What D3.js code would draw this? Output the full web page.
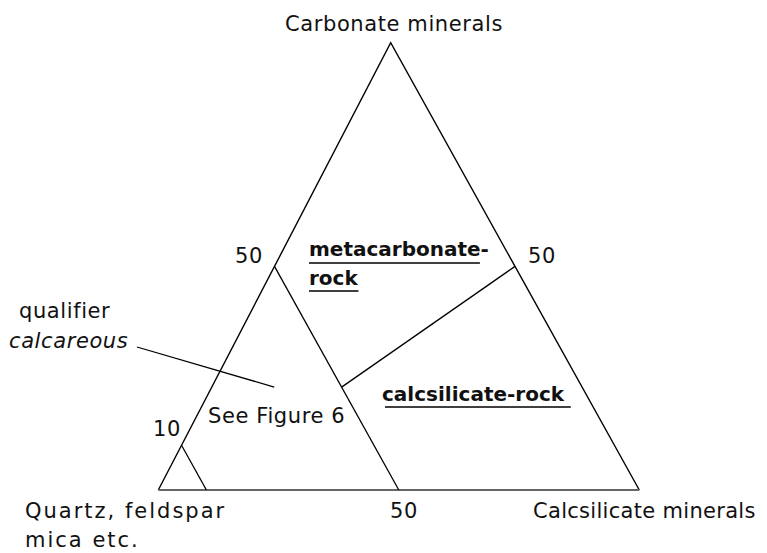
<!DOCTYPE html>
<html lang="en">
<head>
    <title>Metacarbonate classification</title>
    <meta charset="utf-8">
    <style>
        body { margin: 0; background: white; }
        svg { display: block; }
        .label { font-family: "DejaVu Sans", sans-serif; font-size: 21px; fill: #111; letter-spacing: 0.6px; }
        .wide { letter-spacing: 2px; }
        .field { font-family: "DejaVu Sans", sans-serif; font-size: 20px; font-weight: bold; fill: #111; }
        .edge { stroke: #000; stroke-width: 1.4; fill: none; }
        .base { stroke: #666; stroke-width: 2.2; }
        .inner { stroke: #000; stroke-width: 1.3; }
        .uline { stroke: #000; stroke-width: 1.5; }
    </style>
    <script src="https://cdn.jsdelivr.net/npm/d3@7/dist/d3.min.js"></script>
</head>
<body>
<svg id="chart" width="767" height="553"></svg>
<script>
    // ternary points are [carbonate, quartz/feldspar/mica, calcsilicate] in percent
    const cornerNames = ["Carbonate minerals", ["Quartz, feldspar", "mica etc."], "Calcsilicate minerals"];
    const fieldLines = [
        [[50, 50, 0], [0, 50, 50]],   // 50 % quartz etc.
        [[50, 0, 50], [23, 50, 27]],  // carbonate = calcsilicate split
        [[10, 90, 0], [0, 90, 10]]    // 10 % corner
    ];
    const tickValues = ["50", "50", "50", "10"];
    const fieldNames = [["metacarbonate-", "rock"], ["calcsilicate-rock"]];
    const otherText = ["See Figure 6"];
    const qualifier = ["qualifier", "calcareous"];
    const leaderTarget = [23, 64, 13];

    const svg = d3.select("#chart");

    const apex = { x: 390.7, y: 42.7 };
    const left = { x: 158.3, y: 490 };
    const right = { x: 639.3, y: 490 };

    const yScale = d3.scaleLinear().domain([0, 100]).range([left.y, apex.y]);
    const sScale = d3.scaleLinear().domain([0, 100]).range([0, right.x - left.x]);
    const cShift = d3.scaleLinear().domain([0, 100]).range([0, apex.x - left.x]);

    function project(p) {
        const [c, q, s] = p;
        return [left.x + sScale(s) + cShift(c), yScale(c)];
    }

    const line = d3.line();

    // side edges
    svg.append("path")
        .attr("class", "edge")
        .attr("d", line([project([0, 100, 0]), project([100, 0, 0]), project([0, 0, 100])]));

    // base
    svg.append("path")
        .attr("class", "base")
        .attr("d", line([project([0, 100, 0]), project([0, 0, 100])]));

    fieldLines.forEach(seg => {
        svg.append("path")
            .attr("class", "inner")
            .attr("d", line(seg.map(project)));
    });

    // leader from qualifier text
    const tgt = project(leaderTarget);
    svg.append("path")
        .attr("class", "inner")
        .attr("d", line([[137, 347], tgt]));

    function text(x, y, s, cls, anchor) {
        return svg.append("text")
            .attr("class", cls || "label")
            .attr("x", x)
            .attr("y", y)
            .attr("text-anchor", anchor || "start")
            .text(s);
    }

    // corner names
    text(394, 31, cornerNames[0], "label", "middle");
    text(25, 518, cornerNames[1][0], "label wide");
    text(25, 547, cornerNames[1][1], "label wide");
    text(533, 518, cornerNames[2]).style("letter-spacing", "0.3px");

    // ticks
    text(235, 263, tickValues[0]);
    text(528, 263, tickValues[1]);
    text(390, 518, tickValues[2]);
    text(153, 436, tickValues[3]);

    // field names with underline
    const mc1 = text(309, 256, fieldNames[0][0], "field");
    const mc2 = text(309, 285, fieldNames[0][1], "field");
    const cs = text(382, 401, fieldNames[1][0], "field");
    [[mc1, 263, 0], [mc2, 291, 0], [cs, 407, 6]].forEach(([t, y, extra]) => {
        const b = t.node().getBBox();
        svg.append("line")
            .attr("class", "uline")
            .attr("x1", b.x + (t === cs ? 3 : 0))
            .attr("x2", b.x + b.width - (t === mc1 ? 9 : 0) + extra)
            .attr("y1", y)
            .attr("y2", y);
    });

    text(208, 423, otherText[0]);
    text(19, 318, qualifier[0]);
    text(9, 348, qualifier[1]).style("font-style", "italic");
</script>
</body>
</html>
